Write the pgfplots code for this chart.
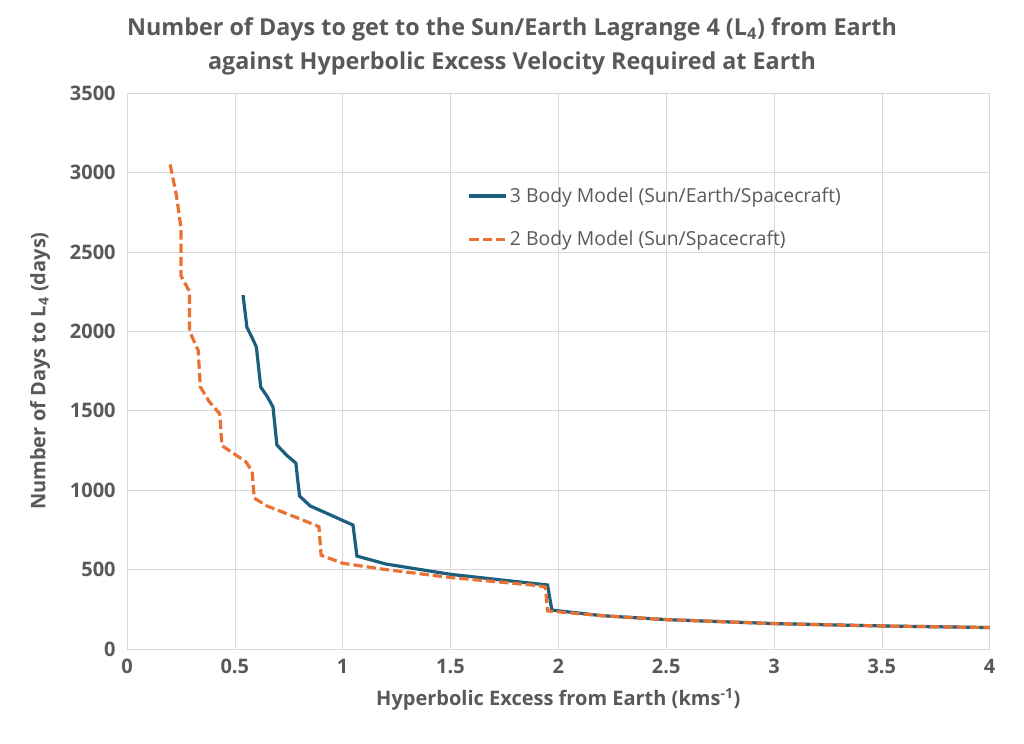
\documentclass[border=0pt]{standalone}
\usepackage{pgfplots}
\pgfplotsset{compat=1.18}
\usepackage{fontspec}
\setmainfont{Open Sans}
\definecolor{tc}{HTML}{595959}
\definecolor{bl}{HTML}{1B5E7E}
\definecolor{orr}{HTML}{E97132}
\begin{document}
\begin{tikzpicture}
\begin{axis}[at={(0,0)},anchor=south west,scale only axis,width=647pt,height=417pt,
xmin=0,xmax=4,ymin=0,ymax=3500,xtick={0,0.5,...,4},ytick={0,500,...,3500},
grid=major,major grid style={draw=black!15},axis line style={draw=black!15},
tick style={draw=none},
/pgf/number format/assume math mode=true,
/pgf/number format/1000 sep={},
xticklabel style={yshift=-4pt},yticklabel style={xshift=-5pt},
ticklabel style={font=\fontsize{15}{18}\selectfont\bfseries,text=tc},
xlabel={Hyperbolic Excess from Earth (kms\textsuperscript{-1})},
ylabel={Number of Days to L\textsubscript{4} (days)},
xlabel style={yshift=-4pt},ylabel style={yshift=8pt},
label style={font=\fontsize{15}{18}\selectfont\bfseries,text=tc},
legend image post style={xscale=1.6},
legend style={draw=none,fill=none,at={(0.39,0.84)},anchor=north west,font=\fontsize{14.5}{18}\selectfont,text=tc,row sep=16pt},
legend cell align=left]
\addplot[bl,line width=2.4pt] coordinates {(0.538,2228)(0.556,2026)(0.58,1960)(0.60,1900)(0.62,1649)(0.65,1590)(0.677,1523)(0.695,1284)(0.74,1220)(0.783,1170)(0.80,963)(0.85,900)(0.95,840)(1.048,780)(1.066,585)(1.2,535)(1.5,470)(1.8,425)(1.95,403)(1.97,245)(2.2,210)(2.5,185)(3,160)(3.5,145)(4,135)};
\addlegendentry{3 Body Model (Sun/Earth/Spacecraft)}
\addplot[orr,line width=2.4pt,dash pattern=on 7pt off 3pt] coordinates {(0.2,3050)(0.23,2850)(0.25,2650)(0.25,2350)(0.29,2250)(0.29,2000)(0.33,1880)(0.34,1650)(0.38,1560)(0.43,1480)(0.44,1280)(0.55,1180)(0.58,1120)(0.59,950)(0.65,900)(0.8,820)(0.89,770)(0.9,590)(1.0,540)(1.2,500)(1.5,450)(1.9,400)(1.94,390)(1.95,240)(2.2,210)(2.5,185)(3,160)(3.5,145)(4,135)};
\addlegendentry{2 Body Model (Sun/Spacecraft)}
\end{axis}
\node[align=center,font=\fontsize{17.5}{25}\selectfont\bfseries,text=tc] at (288.75pt,452pt) {Number of Days to get to the Sun/Earth Lagrange 4 (L\textsubscript{4}) from Earth\\against Hyperbolic Excess Velocity Required at Earth};
\path[use as bounding box] (-95.25pt,-70.5pt) rectangle (672.75pt,486.75pt);
\end{tikzpicture}
\end{document}
